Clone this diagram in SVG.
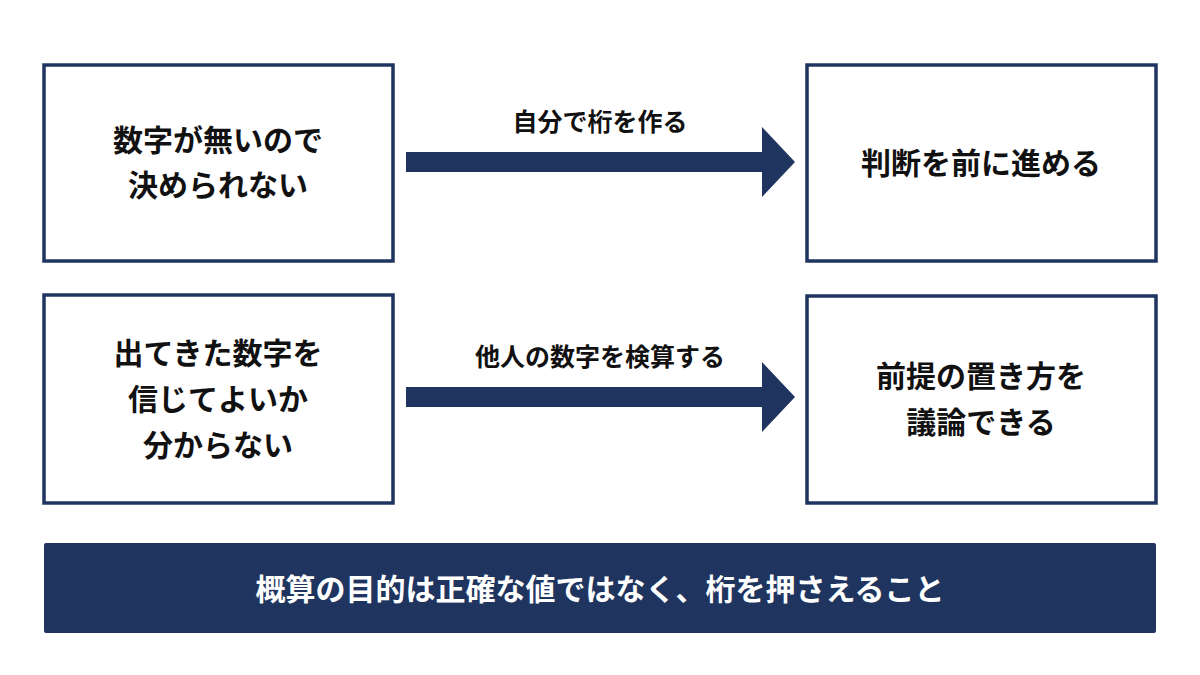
<svg xmlns="http://www.w3.org/2000/svg" width="1200" height="675" viewBox="0 0 1200 675">
<style>
.box{fill:#fff;stroke:#1f3560;stroke-width:3.5}
.t{font-family:"Noto Sans CJK JP",sans-serif;font-weight:bold;font-size:30px;fill:#111;text-anchor:middle}
.l{font-family:"Noto Sans CJK JP",sans-serif;font-weight:bold;font-size:25px;fill:#111;text-anchor:middle}
.arr{fill:#1f3560}
</style>
<rect width="1200" height="675" fill="#fff"/>
<g id="n1"><rect class="box" x="44" y="65" width="349" height="196"/><text class="t" x="218" y="151">数字が無いので</text><text class="t" x="218" y="196">決められない</text></g>
<g id="n2"><rect class="box" x="807" y="65" width="349" height="196"/><text class="t" x="981" y="174">判断を前に進める</text></g>
<g id="n3"><rect class="box" x="44" y="295" width="349" height="208"/><text class="t" x="218" y="364">出てきた数字を</text><text class="t" x="218" y="410">信じてよいか</text><text class="t" x="218" y="456">分からない</text></g>
<g id="n4"><rect class="box" x="807" y="296" width="349" height="207"/><text class="t" x="981" y="387">前提の置き方を</text><text class="t" x="981" y="433">議論できる</text></g>
<g id="connectors">
<polygon class="arr" points="406,152 762,152 762,127 795,162 762,197 762,172 406,172"/>
<text class="l" x="600" y="131">自分で桁を作る</text>
<polygon class="arr" points="406,387 762,387 762,362 795,397 762,432 762,407 406,407"/>
<text class="l" x="600" y="366">他人の数字を検算する</text>
</g>
<g id="summary"><rect x="44" y="543" width="1112" height="90" fill="#1f3560" rx="2"/><text class="t" x="600" y="600" style="fill:#fff">概算の目的は正確な値ではなく、桁を押さえること</text></g>
</svg>
